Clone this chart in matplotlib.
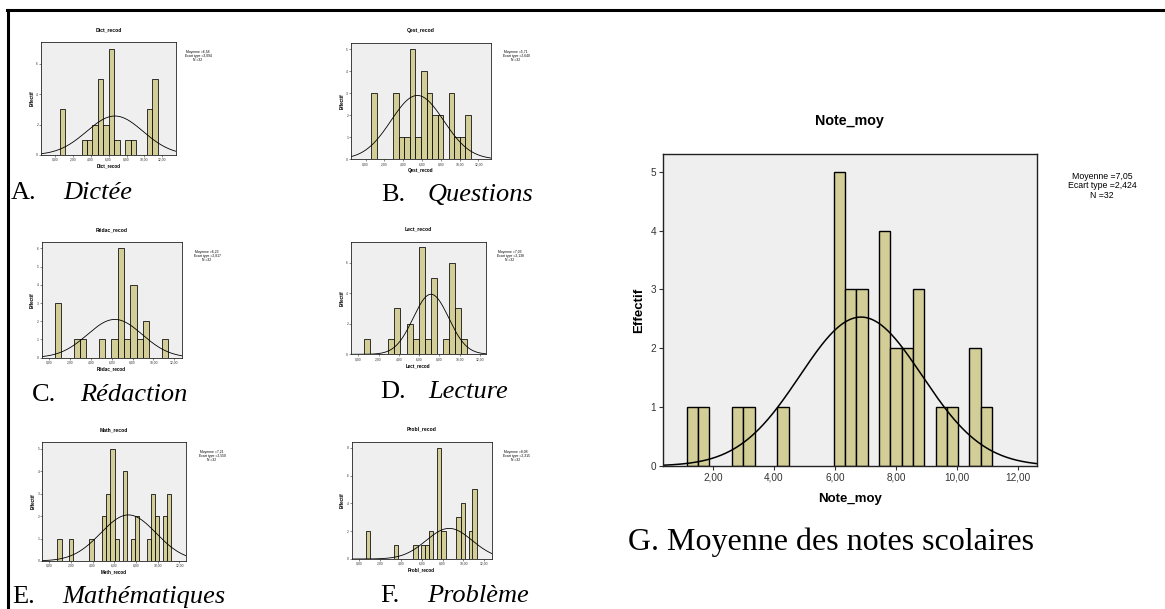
import matplotlib
matplotlib.use("Agg")
import matplotlib.pyplot as plt
import numpy as np
from matplotlib.lines import Line2D

W, H = 1165, 609

# --- data (bin centres, counts, fitted curve mean/sd/peak) ---
dict_centers = [0.86, 3.29, 3.90, 4.50, 5.11, 5.72, 6.32, 6.93, 8.15, 8.75, 10.58, 11.18]
dict_counts = [3, 1, 1, 2, 5, 2, 7, 1, 1, 1, 3, 5]
dict_curve = (6.7, 3.15, 2.57)
dict_stats = ["Moyenne =6,58", "Ecart type =3,094", "N =32"]

qest_centers = [0.87, 3.23, 3.82, 4.41, 5.00, 5.59, 6.18, 6.77, 7.36, 7.95, 9.13, 9.72, 10.31, 10.90]
qest_counts = [3, 3, 1, 1, 5, 1, 4, 3, 2, 2, 3, 1, 1, 2]
qest_curve = (5.5, 2.8, 2.9)
qest_stats = ["Moyenne =5,71", "Ecart type =2,640", "N =32"]

redac_centers = [0.88, 2.68, 3.28, 5.08, 6.28, 6.88, 7.48, 8.08, 8.68, 9.28, 11.08]
redac_counts = [3, 1, 1, 1, 1, 6, 1, 4, 1, 2, 1]
redac_curve = (6.3, 2.62, 2.1)
redac_stats = ["Moyenne =6,23", "Ecart type =2,817", "N =32"]

lect_centers = [0.86, 3.26, 3.86, 5.06, 5.66, 6.26, 6.86, 7.46, 8.66, 9.26, 9.86, 10.46]
lect_counts = [1, 1, 3, 2, 1, 7, 1, 5, 1, 6, 3, 1]
lect_curve = (7.17, 1.75, 3.93)
lect_stats = ["Moyenne =7,03", "Ecart type =2,138", "N =32"]

math_centers = [0.94, 2.02, 3.89, 5.03, 5.43, 5.83, 6.23, 6.94, 7.68, 8.08, 9.18, 9.55, 9.92, 10.63, 11.03]
math_counts = [1, 1, 1, 2, 3, 5, 1, 4, 1, 2, 1, 3, 2, 2, 3]
math_curve = (7.29, 2.55, 2.05)
math_stats = ["Moyenne =7,21", "Ecart type =2,550", "N =32"]

probl_centers = [0.87, 3.52, 5.41, 6.14, 6.53, 6.91, 7.68, 8.09, 9.53, 9.94, 10.68, 11.06]
probl_counts = [2, 1, 1, 1, 1, 2, 8, 2, 3, 4, 2, 5]
probl_curve = (8.63, 2.2, 2.2)
probl_stats = ["Moyenne =8,08", "Ecart type =2,315", "N =32"]

note_centers = [1.335, 1.705, 2.815, 3.185, 4.295, 6.145, 6.515, 6.885, 7.625, 7.995,
                8.365, 8.735, 9.475, 9.845, 10.585, 10.955]
note_counts = [1, 1, 1, 1, 1, 5, 3, 3, 4, 2, 2, 3, 1, 1, 2, 1]
note_curve = (6.85, 2.0, 2.53)
note_stats = ["Moyenne =7,05", "Ecart type =2,424", "N =32"]

x_ticks = [0, 2, 4, 6, 8, 10, 12]

BAR = "#d3ce97"
BG = "#efefef"


def fx(x):
    return x / W


def fy(y):
    return 1 - y / H


def add_axes_px(x0, y0, x1, y1):
    return fig.add_axes([fx(x0), fy(y1), (x1 - x0) / W, (y1 - y0) / H])


def draw_hist(ax, centers, counts, width, curve, title, xlabel, xlim, ylim, yticks,
              xticks, big=False):
    lw = 1.0 if big else 0.55
    ax.set_facecolor(BG)
    ax.bar(centers, counts, width=width, color=BAR, edgecolor="black", linewidth=lw)
    mu, sd, peak = curve
    xs = np.linspace(xlim[0], xlim[1], 300)
    ax.plot(xs, peak * np.exp(-0.5 * ((xs - mu) / sd) ** 2), color="black",
            lw=1.1 if big else 0.6)
    ax.set_xlim(*xlim)
    ax.set_ylim(0, ylim)
    ax.set_xticks(xticks)
    ax.set_xticklabels([f"{t:.2f}".replace(".", ",") for t in xticks])
    ax.set_yticks(yticks)
    fs = 7.2 if big else 2.4
    ax.tick_params(labelsize=fs, colors="#333333", length=3 if big else 1.2,
                   width=0.8 if big else 0.4, pad=2 if big else 0.8)
    for s in ax.spines.values():
        s.set_color("#222222")
        s.set_linewidth(1.0 if big else 0.6)
    lfs = 9.5 if big else 3.3
    ax.set_xlabel(xlabel, fontsize=lfs, fontweight="bold", labelpad=7 if big else 1.5)
    ax.set_ylabel("Effectif", fontsize=lfs, fontweight="bold", labelpad=4 if big else 1.5)
    ax.set_title(title, fontsize=10.3 if big else 3.6, fontweight="bold",
                 pad=21 if big else 8)


plt.rcParams["font.family"] = ["Liberation Sans", "DejaVu Sans"]
fig = plt.figure(figsize=(W / 100, H / 100), dpi=100)

# frame
fig.add_artist(Line2D([fx(7), fx(1165)], [fy(10), fy(10)], color="black", lw=2.2))
fig.add_artist(Line2D([fx(7.5), fx(7.5)], [fy(10), fy(609)], color="black", lw=2.2))

panels = [
    (41, 42.3, 175.7, 155, dict_centers, dict_counts, 0.607, dict_curve, "Dict_recod",
     (-1.56, 13.5), 7.43, [0, 2, 4, 6], dict_stats, (198, 50)),
    (351, 43.3, 490.7, 159.3, qest_centers, qest_counts, 0.59, qest_curve, "Qest_recod",
     (-1.56, 13.3), 5.27, [0, 1, 2, 3, 4, 5], qest_stats, (516, 50)),
    (41.7, 242.3, 181.7, 357.7, redac_centers, redac_counts, 0.6, redac_curve, "Rédac_recod",
     (-0.7, 12.7), 6.33, [0, 1, 2, 3, 4, 5, 6], redac_stats, (207, 250)),
    (351, 241.7, 485.7, 354.3, lect_centers, lect_counts, 0.6, lect_curve, "Lect_recod",
     (-0.72, 12.57), 7.37, [0, 2, 4, 6], lect_stats, (510, 250)),
    (42.3, 442.3, 186, 561, math_centers, math_counts, 0.39, math_curve, "Math_recod",
     (-0.65, 12.6), 5.28, [0, 1, 2, 3, 4, 5], math_stats, (212, 450)),
    (351.7, 441.7, 491.7, 559, probl_centers, probl_counts, 0.4, probl_curve, "Probl_recod",
     (-0.7, 12.7), 8.43, [0, 2, 4, 6, 8], probl_stats, (516, 450)),
]

for (x0, y0, x1, y1, cen, cnt, w, cur, name, xl, yl, yt, stats, spos) in panels:
    ax = add_axes_px(x0, y0, x1, y1)
    draw_hist(ax, cen, cnt, w, cur, name, name, xl, yl, yt, x_ticks)
    fig.text(fx(spos[0]), fy(spos[1]), "\n".join(stats), fontsize=2.4, ha="center",
             va="top", linespacing=1.0)

# big panel G
axg = add_axes_px(663, 154, 1036.7, 466)
draw_hist(axg, note_centers, note_counts, 0.37, note_curve, "Note_moy", "Note_moy",
          (0.37, 12.6), 5.3, [0, 1, 2, 3, 4, 5], [2, 4, 6, 8, 10, 12], big=True)
fig.text(fx(1102), fy(172), "\n".join(note_stats), fontsize=6.3, ha="center", va="top",
         linespacing=1.05)

# captions
serif = ["Liberation Serif", "DejaVu Serif"]
captions = [
    ("A.", "Dictée", 11, 63, 199),
    ("B.", "Questions", 381, 428, 201),
    ("C.", "Rédaction", 32, 80, 401),
    ("D.", "Lecture", 380, 428, 398),
    ("E.", "Mathématiques", 12, 62, 603),
    ("F.", "Problème", 380, 427, 602),
]
for letter, word, xl_, xw, yb in captions:
    fig.text(fx(xl_), fy(yb), letter, fontsize=19, family=serif, va="baseline")
    fig.text(fx(xw), fy(yb), word, fontsize=19, family=serif, style="italic",
             va="baseline")
fig.text(fx(628), fy(550), "G. Moyenne des notes scolaires", fontsize=23, family=serif,
         va="baseline")

fig.savefig("out.png", dpi=100)
